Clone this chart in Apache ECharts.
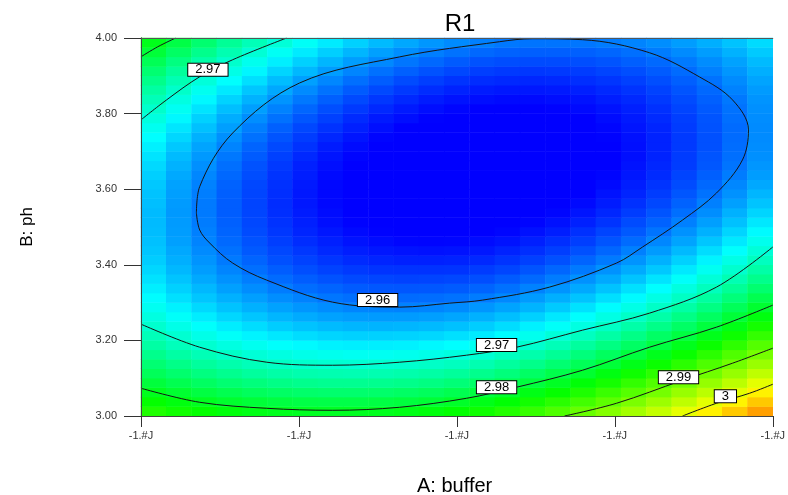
<!DOCTYPE html>
<html><head><meta charset="utf-8">
<script src="https://cdn.jsdelivr.net/npm/echarts@6/dist/echarts.min.js"></script>
<style>html,body{margin:0;padding:0;background:#fff}#c{width:788px;height:495px}</style>
</head><body><div id="c"></div>
<script>
// ---- axis ticks ----
const xTickValues = [0, 0.25, 0.5, 0.75, 1];
const xTickLabels = ['-1.#J', '-1.#J', '-1.#J', '-1.#J', '-1.#J'];
const yTickValues = [3.0, 3.2, 3.4, 3.6, 3.8, 4.0];

// ---- response surface R1
// rows bottom->top (pH 3.0125 .. 3.9875, step 0.025); columns A 0.02 .. 0.98 (step 0.04) ----
const surfaceRows = [
[2.9842,2.9831,2.9822,2.9814,2.9808,2.9804,2.9801,2.9800,2.9801,2.9803,2.9807,2.9813,2.9821,2.9830,2.9844,2.9858,2.9875,2.9893,2.9913,2.9935,2.9958,2.9983,3.0010,3.0038,3.0068],
[2.9822,2.9811,2.9801,2.9793,2.9787,2.9782,2.9779,2.9778,2.9778,2.9780,2.9784,2.9789,2.9796,2.9806,2.9818,2.9833,2.9849,2.9866,2.9886,2.9907,2.9930,2.9954,2.9981,3.0008,3.0038],
[2.9803,2.9791,2.9781,2.9773,2.9766,2.9761,2.9758,2.9756,2.9756,2.9758,2.9761,2.9766,2.9773,2.9782,2.9794,2.9808,2.9823,2.9841,2.9860,2.9880,2.9903,2.9927,2.9952,2.9980,3.0009],
[2.9785,2.9773,2.9763,2.9754,2.9747,2.9741,2.9737,2.9735,2.9735,2.9736,2.9739,2.9744,2.9750,2.9759,2.9771,2.9784,2.9799,2.9816,2.9834,2.9855,2.9877,2.9900,2.9925,2.9952,2.9981],
[2.9768,2.9756,2.9745,2.9736,2.9728,2.9722,2.9718,2.9716,2.9715,2.9716,2.9719,2.9723,2.9729,2.9737,2.9748,2.9761,2.9776,2.9792,2.9810,2.9830,2.9851,2.9874,2.9899,2.9926,2.9954],
[2.9753,2.9740,2.9728,2.9719,2.9711,2.9705,2.9700,2.9697,2.9696,2.9697,2.9699,2.9703,2.9708,2.9716,2.9727,2.9739,2.9754,2.9769,2.9787,2.9806,2.9827,2.9850,2.9874,2.9900,2.9928],
[2.9738,2.9724,2.9713,2.9703,2.9694,2.9688,2.9683,2.9680,2.9678,2.9678,2.9680,2.9684,2.9689,2.9696,2.9707,2.9719,2.9732,2.9748,2.9765,2.9784,2.9804,2.9826,2.9850,2.9876,2.9903],
[2.9724,2.9710,2.9698,2.9688,2.9679,2.9672,2.9667,2.9663,2.9661,2.9661,2.9662,2.9666,2.9670,2.9677,2.9687,2.9699,2.9712,2.9727,2.9744,2.9762,2.9782,2.9804,2.9827,2.9852,2.9879],
[2.9711,2.9697,2.9684,2.9674,2.9664,2.9657,2.9651,2.9647,2.9645,2.9645,2.9646,2.9648,2.9653,2.9659,2.9669,2.9680,2.9693,2.9707,2.9723,2.9741,2.9761,2.9782,2.9805,2.9829,2.9856],
[2.9699,2.9684,2.9672,2.9660,2.9651,2.9643,2.9637,2.9633,2.9630,2.9629,2.9630,2.9632,2.9636,2.9643,2.9651,2.9662,2.9674,2.9688,2.9704,2.9721,2.9740,2.9761,2.9784,2.9808,2.9834],
[2.9688,2.9673,2.9660,2.9648,2.9639,2.9630,2.9624,2.9619,2.9616,2.9615,2.9615,2.9617,2.9621,2.9627,2.9635,2.9645,2.9657,2.9671,2.9686,2.9703,2.9721,2.9742,2.9764,2.9787,2.9812],
[2.9678,2.9663,2.9649,2.9637,2.9627,2.9619,2.9612,2.9607,2.9603,2.9602,2.9601,2.9603,2.9606,2.9612,2.9620,2.9629,2.9641,2.9654,2.9669,2.9685,2.9703,2.9723,2.9744,2.9768,2.9792],
[2.9669,2.9653,2.9639,2.9627,2.9617,2.9608,2.9601,2.9595,2.9591,2.9589,2.9589,2.9590,2.9593,2.9598,2.9605,2.9615,2.9626,2.9638,2.9652,2.9668,2.9686,2.9705,2.9726,2.9749,2.9773],
[2.9661,2.9645,2.9631,2.9618,2.9607,2.9598,2.9590,2.9585,2.9580,2.9578,2.9577,2.9578,2.9580,2.9585,2.9592,2.9601,2.9611,2.9623,2.9637,2.9653,2.9670,2.9689,2.9709,2.9731,2.9755],
[2.9654,2.9638,2.9623,2.9610,2.9599,2.9589,2.9581,2.9575,2.9570,2.9568,2.9566,2.9567,2.9569,2.9573,2.9580,2.9588,2.9598,2.9610,2.9623,2.9638,2.9655,2.9673,2.9693,2.9715,2.9738],
[2.9648,2.9631,2.9616,2.9603,2.9591,2.9581,2.9573,2.9566,2.9561,2.9558,2.9557,2.9557,2.9558,2.9562,2.9568,2.9576,2.9586,2.9597,2.9610,2.9624,2.9640,2.9658,2.9678,2.9699,2.9722],
[2.9643,2.9626,2.9611,2.9597,2.9585,2.9574,2.9566,2.9559,2.9553,2.9550,2.9548,2.9548,2.9549,2.9552,2.9558,2.9565,2.9574,2.9585,2.9597,2.9611,2.9627,2.9645,2.9664,2.9685,2.9707],
[2.9639,2.9622,2.9606,2.9592,2.9579,2.9569,2.9560,2.9552,2.9546,2.9542,2.9540,2.9539,2.9540,2.9543,2.9549,2.9555,2.9564,2.9574,2.9586,2.9600,2.9615,2.9632,2.9651,2.9671,2.9693],
[2.9636,2.9618,2.9602,2.9588,2.9575,2.9564,2.9554,2.9547,2.9540,2.9536,2.9533,2.9532,2.9533,2.9536,2.9540,2.9547,2.9555,2.9564,2.9576,2.9589,2.9604,2.9620,2.9639,2.9658,2.9680],
[2.9634,2.9616,2.9600,2.9585,2.9571,2.9560,2.9550,2.9542,2.9535,2.9531,2.9528,2.9526,2.9526,2.9529,2.9533,2.9539,2.9546,2.9556,2.9567,2.9579,2.9594,2.9610,2.9627,2.9647,2.9668],
[2.9633,2.9615,2.9598,2.9583,2.9569,2.9557,2.9547,2.9538,2.9531,2.9526,2.9523,2.9521,2.9521,2.9523,2.9526,2.9532,2.9539,2.9548,2.9558,2.9571,2.9584,2.9600,2.9617,2.9636,2.9657],
[2.9633,2.9614,2.9597,2.9581,2.9568,2.9555,2.9545,2.9536,2.9528,2.9523,2.9519,2.9517,2.9516,2.9518,2.9521,2.9526,2.9533,2.9541,2.9551,2.9563,2.9576,2.9591,2.9608,2.9627,2.9647],
[2.9635,2.9615,2.9597,2.9581,2.9567,2.9554,2.9543,2.9534,2.9527,2.9521,2.9516,2.9514,2.9513,2.9514,2.9517,2.9521,2.9527,2.9535,2.9545,2.9556,2.9569,2.9584,2.9600,2.9618,2.9638],
[2.9637,2.9617,2.9599,2.9582,2.9568,2.9555,2.9543,2.9534,2.9526,2.9519,2.9515,2.9512,2.9510,2.9511,2.9513,2.9517,2.9523,2.9530,2.9540,2.9550,2.9563,2.9577,2.9593,2.9610,2.9630],
[2.9640,2.9619,2.9601,2.9584,2.9569,2.9556,2.9544,2.9534,2.9526,2.9519,2.9514,2.9511,2.9509,2.9509,2.9511,2.9514,2.9520,2.9527,2.9535,2.9546,2.9558,2.9571,2.9587,2.9604,2.9622],
[2.9644,2.9623,2.9604,2.9587,2.9572,2.9558,2.9546,2.9535,2.9527,2.9519,2.9514,2.9510,2.9508,2.9508,2.9510,2.9513,2.9517,2.9524,2.9532,2.9542,2.9553,2.9567,2.9582,2.9598,2.9616],
[2.9649,2.9628,2.9609,2.9591,2.9575,2.9561,2.9548,2.9538,2.9529,2.9521,2.9515,2.9511,2.9509,2.9508,2.9509,2.9512,2.9516,2.9522,2.9530,2.9540,2.9551,2.9563,2.9578,2.9594,2.9612],
[2.9655,2.9633,2.9614,2.9596,2.9580,2.9565,2.9552,2.9541,2.9532,2.9524,2.9518,2.9513,2.9510,2.9509,2.9510,2.9512,2.9516,2.9522,2.9529,2.9538,2.9549,2.9562,2.9576,2.9591,2.9609],
[2.9662,2.9640,2.9620,2.9602,2.9585,2.9570,2.9557,2.9545,2.9536,2.9527,2.9521,2.9516,2.9513,2.9511,2.9512,2.9514,2.9517,2.9523,2.9530,2.9538,2.9549,2.9561,2.9574,2.9590,2.9607],
[2.9670,2.9648,2.9627,2.9609,2.9592,2.9576,2.9563,2.9551,2.9541,2.9532,2.9525,2.9520,2.9516,2.9515,2.9514,2.9516,2.9519,2.9524,2.9531,2.9539,2.9549,2.9561,2.9574,2.9589,2.9606],
[2.9679,2.9656,2.9636,2.9617,2.9599,2.9583,2.9569,2.9557,2.9547,2.9538,2.9530,2.9525,2.9521,2.9519,2.9518,2.9519,2.9522,2.9527,2.9533,2.9541,2.9550,2.9562,2.9575,2.9589,2.9606],
[2.9689,2.9666,2.9645,2.9625,2.9608,2.9592,2.9577,2.9565,2.9553,2.9544,2.9537,2.9531,2.9526,2.9524,2.9523,2.9524,2.9526,2.9530,2.9536,2.9544,2.9553,2.9564,2.9576,2.9591,2.9607],
[2.9700,2.9677,2.9655,2.9635,2.9617,2.9601,2.9586,2.9573,2.9561,2.9552,2.9544,2.9537,2.9533,2.9530,2.9529,2.9529,2.9531,2.9535,2.9540,2.9547,2.9556,2.9567,2.9579,2.9593,2.9609],
[2.9712,2.9688,2.9666,2.9646,2.9628,2.9611,2.9596,2.9582,2.9570,2.9560,2.9552,2.9545,2.9540,2.9537,2.9535,2.9535,2.9537,2.9540,2.9546,2.9552,2.9561,2.9571,2.9583,2.9596,2.9611],
[2.9725,2.9701,2.9679,2.9658,2.9639,2.9622,2.9606,2.9593,2.9580,2.9570,2.9561,2.9554,2.9549,2.9545,2.9543,2.9543,2.9544,2.9547,2.9552,2.9558,2.9566,2.9576,2.9587,2.9601,2.9615],
[2.9739,2.9715,2.9692,2.9671,2.9652,2.9634,2.9618,2.9604,2.9591,2.9581,2.9571,2.9564,2.9558,2.9554,2.9552,2.9551,2.9552,2.9555,2.9559,2.9565,2.9573,2.9582,2.9593,2.9606,2.9620],
[2.9754,2.9729,2.9706,2.9685,2.9665,2.9647,2.9631,2.9616,2.9603,2.9592,2.9583,2.9575,2.9569,2.9564,2.9561,2.9560,2.9561,2.9563,2.9567,2.9573,2.9580,2.9589,2.9600,2.9612,2.9626],
[2.9770,2.9745,2.9721,2.9700,2.9680,2.9661,2.9645,2.9630,2.9616,2.9605,2.9595,2.9587,2.9580,2.9575,2.9572,2.9571,2.9571,2.9573,2.9576,2.9582,2.9588,2.9597,2.9607,2.9619,2.9633],
[2.9787,2.9762,2.9738,2.9716,2.9695,2.9676,2.9659,2.9644,2.9630,2.9618,2.9608,2.9599,2.9593,2.9587,2.9584,2.9582,2.9582,2.9583,2.9586,2.9591,2.9598,2.9606,2.9616,2.9628,2.9641],
[2.9805,2.9779,2.9755,2.9732,2.9712,2.9693,2.9675,2.9659,2.9645,2.9633,2.9622,2.9613,2.9606,2.9600,2.9596,2.9594,2.9594,2.9595,2.9598,2.9602,2.9608,2.9616,2.9626,2.9637,2.9650]
];

// ---- contour lines, [A, pH] ----
const contour296 = [[0.0877,3.5371],[0.0929,3.6068],[0.1451,3.7486],[0.2511,3.8811],[0.4093,3.9500],[0.5675,3.9902],[0.6197,3.9981],[0.6989,3.9955],[0.8049,3.9610],[0.8840,3.8970],[0.9362,3.8364],[0.9615,3.7569],[0.9520,3.6774],[0.9109,3.5899],[0.8571,3.5183],[0.7938,3.4470],[0.7527,3.4046],[0.6467,3.3410],[0.5407,3.3066],[0.4885,3.2986],[0.4093,3.2880],[0.3033,3.3012],[0.1989,3.3595],[0.1451,3.4046],[0.1087,3.4576],[0.0929,3.4921],[0.0877,3.5371]];
const contour297Upper = [[0,3.7835],[0.0407,3.8365],[0.0929,3.8975],[0.1451,3.9425],[0.2305,4.0]];
const contour298Upper = [[0,3.9504],[0.0264,3.9767],[0.0549,4.0]];
const contour297Lower = [[0,3.2430],[0.0929,3.1820],[0.1989,3.1423],[0.3033,3.1343],[0.4093,3.1423],[0.5153,3.1609],[0.5944,3.1820],[0.6989,3.2271],[0.8049,3.2721],[0.9109,3.3410],[1,3.4470]];
const contour298Lower = [[0,3.0734],[0.0929,3.0363],[0.1989,3.0204],[0.3033,3.0151],[0.4093,3.0231],[0.5153,3.0469],[0.5944,3.0761],[0.6989,3.1211],[0.8049,3.1820],[0.9109,3.2350],[1,3.2933]];
const contour299 = [[0.6704,3.0],[0.7527,3.0337],[0.8571,3.0946],[0.9362,3.1396],[1,3.1794]];
const contour300 = [[0.8571,3.0],[0.9109,3.0337],[0.9631,3.0601],[1,3.0840]];

// ---- contour labels ----
const contourLabelX = [0.3745, 0.1059, 0.5628, 0.5628, 0.8508, 0.9250];
const contourLabelY = [3.3066, 3.9160, 3.1876, 3.0763, 3.1028, 3.0522];
const contourLabelText = ['2.96', '2.97', '2.97', '2.98', '2.99', '3'];

const FONT = "'Liberation Sans', Arial, Helvetica, sans-serif";

// colour ramp (style): blue -> cyan -> green -> yellow -> red
const rampStops = [[2.953, [0, 0, 255]], [2.967, [0, 255, 255]], [2.982, [0, 255, 0]], [3.0, [255, 255, 0]], [3.018, [255, 0, 0]]];
const rampMin = rampStops[0][0], rampMax = rampStops[rampStops.length - 1][0];
const rampColors = [];
for (let s = 0; s <= 130; s++) {
  const v = rampMin + (rampMax - rampMin) * s / 130;
  let k = 0; while (k < rampStops.length - 2 && v > rampStops[k + 1][0]) k++;
  const [v0, c0] = rampStops[k], [v1, c1] = rampStops[k + 1];
  const t = Math.max(0, Math.min(1, (v - v0) / (v1 - v0)));
  rampColors.push('rgb(' + c0.map((c, m) => Math.round(c + (c1[m] - c) * t)).join(',') + ')');
}

const heatData = [];
surfaceRows.forEach((row, j) => row.forEach((v, i) => heatData.push([i, j, v])));
const colCats = surfaceRows[0].map((_, i) => String(i));
const rowCats = surfaceRows.map((_, j) => String(j));

function contourSeries(pts) {
  return { type: 'line', xAxisIndex: 1, yAxisIndex: 1, data: pts, smooth: 0.35, symbol: 'none',
    lineStyle: { color: '#151515', width: 1 }, z: 3, silent: true };
}

const chart = echarts.init(document.getElementById('c'), null, { renderer: 'canvas' });
chart.setOption({
  animation: false,
  backgroundColor: '#ffffff',
  title: { text: 'R1', left: 455, top: 7, textAlign: 'center',
    textStyle: { fontFamily: FONT, fontSize: 24, fontWeight: 'normal', color: '#000' } },
  grid: { left: 141, right: 15, top: 38, bottom: 79 },
  xAxis: [
    { type: 'category', data: colCats, position: 'top', boundaryGap: true, z: 10,
      axisLine: { show: true, lineStyle: { color: '#555', width: 1 } },
      axisTick: { show: false }, axisLabel: { show: false }, splitLine: { show: false } },
    { type: 'value', min: 0, max: 1, interval: 0.25, position: 'bottom', z: 10,
      axisLine: { show: true, onZero: false, lineStyle: { color: '#444', width: 1 } },
      axisTick: { show: true, length: 11, lineStyle: { color: '#333' } },
      axisLabel: { margin: 14, fontFamily: FONT, fontSize: 11, color: '#333',
        formatter: v => { const k = xTickValues.findIndex(t => Math.abs(t - v) < 1e-9); return k >= 0 ? xTickLabels[k] : ''; } },
      splitLine: { show: false } }
  ],
  yAxis: [
    { type: 'category', data: rowCats, position: 'right', boundaryGap: true, z: 10,
      axisLine: { show: true, lineStyle: { color: '#555', width: 1 } },
      axisTick: { show: false }, axisLabel: { show: false }, splitLine: { show: false } },
    { type: 'value', min: yTickValues[0], max: yTickValues[yTickValues.length - 1], interval: 0.2, position: 'left', z: 10,
      axisLine: { show: true, onZero: false, lineStyle: { color: '#444', width: 1 } },
      axisTick: { show: true, length: 17, lineStyle: { color: '#333' } },
      axisLabel: { margin: 24, fontFamily: FONT, fontSize: 11, color: '#333',
        formatter: v => v.toFixed(2) },
      splitLine: { show: false } }
  ],
  visualMap: {
    show: false, type: 'continuous', seriesIndex: 0, dimension: 2,
    min: rampMin, max: rampMax,
    inRange: { color: rampColors }
  },
  graphic: [
    { type: 'text', left: 462 - 45, top: 476, style: { text: 'A: buffer', font: '20px ' + FONT, fill: '#000' } },
    { type: 'text', x: 27, y: 227, rotation: Math.PI / 2,
      style: { text: 'B: ph', font: '17px ' + FONT, fill: '#000', align: 'center', verticalAlign: 'middle' } }
  ],
  series: [
    { type: 'heatmap', xAxisIndex: 0, yAxisIndex: 0, data: heatData, z: 1, silent: true,
      itemStyle: { borderWidth: 0 }, progressive: 0 },
    contourSeries(contour296),
    contourSeries(contour297Upper),
    contourSeries(contour298Upper),
    contourSeries(contour297Lower),
    contourSeries(contour298Lower),
    contourSeries(contour299),
    contourSeries(contour300),
    { type: 'scatter', xAxisIndex: 1, yAxisIndex: 1, z: 5, silent: true,
      data: contourLabelX.map((x, k) => [x, contourLabelY[k]]),
      symbol: 'rect', symbolSize: 1, itemStyle: { color: '#ffffff', opacity: 1 },
      label: { show: true, position: 'inside', opacity: 1, formatter: p => contourLabelText[p.dataIndex],
        fontFamily: FONT, fontSize: 13, color: '#000', backgroundColor: '#ffffff',
        borderColor: '#000', borderWidth: 1, padding: [0, 7], lineHeight: 12 } }
  ]
});
</script>
</body></html>
